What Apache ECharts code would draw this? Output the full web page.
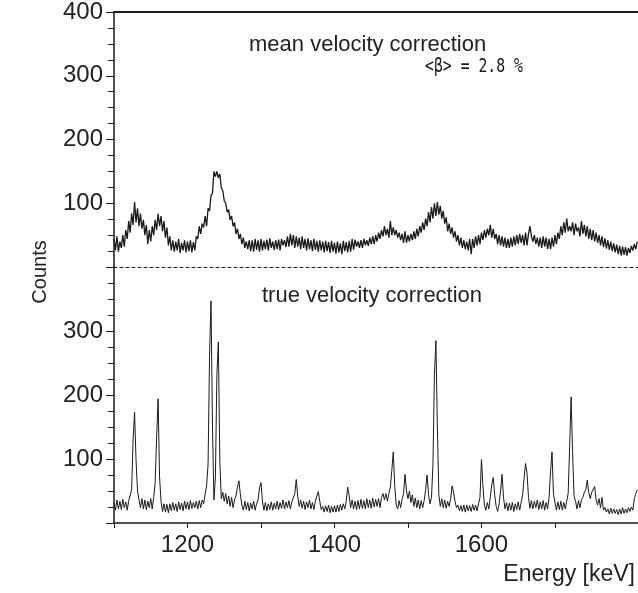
<!DOCTYPE html>
<html>
<head>
<meta charset="utf-8">
<script src="https://cdn.jsdelivr.net/npm/echarts@6/dist/echarts.min.js"></script>
<style>
  html, body { margin: 0; padding: 0; background: #fff; }
  #main { width: 638px; height: 593px; }
</style>
</head>
<body>
<div id="main"></div>
<script>
// energy bins: 1100 keV upwards, 2 keV per channel
var E_START = 1100;
var E_STEP = 2;

// counts (mean velocity correction), 20 keV per row
var meanCounts = [
  44,26,48,24,40,30,50,32,58,44,
  72,54,84,66,102,70,92,64,84,60,
  74,50,66,36,58,40,64,50,74,58,
  84,64,80,56,72,46,62,34,48,26,
  42,24,40,26,44,22,38,26,42,23,
  40,25,42,23,39,26,48,44,64,52,
  68,62,80,64,92,88,112,116,150,142,
  150,140,146,124,120,104,100,86,90,74,
  80,64,70,52,60,44,52,36,46,30,
  40,28,42,25,42,24,44,27,42,24,
  44,26,41,28,43,26,45,30,40,27,
  42,28,43,26,44,34,42,31,48,32,
  52,34,50,30,48,32,46,28,48,30,
  44,26,45,28,42,25,44,27,41,24,
  42,26,40,23,41,25,39,22,41,24,
  38,21,40,23,37,20,41,25,39,23,
  41,24,44,27,43,32,40,30,42,30,
  44,34,42,33,46,36,48,36,50,40,
  54,44,58,48,64,50,60,46,72,50,
  62,50,58,46,54,42,52,38,56,38,
  50,40,52,42,56,44,60,48,64,54,
  70,58,76,64,86,70,94,76,100,80,
  102,82,96,76,88,68,78,56,68,52,
  62,46,56,40,50,34,46,30,42,28,
  40,26,44,20,44,30,48,34,50,36,
  54,42,58,46,60,50,66,46,60,44,
  52,36,50,34,48,32,46,30,44,30,
  46,32,48,34,50,36,52,38,50,34,
  54,34,52,64,48,40,50,36,46,32,
  46,30,48,32,46,28,44,28,46,32,
  50,36,54,44,64,50,70,54,76,56,
  64,56,70,50,68,56,62,48,72,52,
  66,48,64,44,60,42,58,40,54,38,
  50,34,48,31,45,29,42,27,40,25,
  37,23,35,20,33,18,32,19,31,18,
  30,22,33,26,36,28,40
];

// counts (true velocity correction)
var trueCounts = [
  32,20,36,22,34,21,37,24,33,20,
  35,38,52,130,173,98,50,36,24,38,
  22,36,21,34,24,38,22,40,62,135,
  194,72,34,18,30,17,29,16,30,19,
  32,20,30,18,33,21,31,19,34,22,
  33,21,35,23,32,24,34,22,35,24,
  36,30,45,58,92,262,347,150,36,72,
  232,283,96,38,48,34,46,30,42,26,
  40,24,36,42,56,66,44,28,20,34,
  21,32,19,31,22,34,20,30,36,55,
  63,34,20,32,19,30,21,33,20,31,
  22,34,21,32,23,36,22,33,24,35,
  22,33,36,46,68,42,26,36,23,34,
  21,33,24,36,22,32,21,34,42,49,
  34,21,26,17,27,18,28,16,26,17,
  27,17,28,18,29,20,30,22,34,56,
  42,24,36,22,34,21,35,22,37,23,
  35,22,38,24,36,23,39,25,37,26,
  38,24,40,46,36,46,34,46,56,82,
  111,58,28,22,35,24,37,46,76,50,
  38,50,32,44,26,39,24,36,22,35,
  24,35,52,75,44,30,40,92,232,285,
  150,44,26,38,24,36,23,34,26,37,
  58,48,34,24,28,19,27,18,28,17,
  28,19,27,18,29,20,28,19,30,40,
  99,58,28,20,32,22,40,60,71,44,
  26,18,30,50,76,40,22,32,19,31,
  20,32,18,30,21,33,20,32,44,70,
  93,78,40,23,35,22,34,24,36,21,
  33,22,35,20,32,22,40,80,111,45,
  32,20,33,21,34,20,32,22,34,46,
  120,197,110,42,34,22,35,24,36,40,
  48,52,67,48,38,48,50,57,36,28,
  38,24,40,20,24,17,22,14,23,15,
  22,15,21,13,22,14,24,15,22,16,
  24,18,25,20,38,46,52
];

var xTicks = [1100, 1200, 1300, 1400, 1500, 1600, 1700];
var xLabels = [1200, 1400, 1600];

function toPairs(arr) {
  return arr.map(function (v, i) { return [E_START + i * E_STEP, v]; });
}

var ink = '#1a1a1a';
var font = '"Liberation Sans", Arial, sans-serif';

var myChart = echarts.init(document.getElementById('main'));
var yBase = {
  type: 'value', min: 0, max: 400, interval: 100,
  axisLine: { show: true, onZero: false, lineStyle: { color: ink, width: 1.5 } },
  axisTick: { show: true, length: 8, lineStyle: { color: ink } },
  minorTick: { show: true, splitNumber: 4, length: 6, lineStyle: { color: ink } },
  splitLine: { show: false },
  axisLabel: { fontSize: 24, fontFamily: font, color: '#222', margin: 11 }
};

option = {
  animation: false,
  backgroundColor: '#fff',
  grid: [
    { left: 114, right: 0, top: 11, height: 256 },
    { left: 114, right: 0, top: 267, height: 256 }
  ],
  xAxis: [
    { gridIndex: 0, type: 'value', min: 1100, max: 1813, position: 'bottom',
      axisLine: { onZero: false, lineStyle: { color: ink, width: 1, type: [3, 3] } },
      axisTick: { show: false }, axisLabel: { show: false }, splitLine: { show: false } },
    { gridIndex: 0, type: 'value', min: 1100, max: 1813, position: 'top',
      axisLine: { onZero: false, lineStyle: { color: ink, width: 2 } },
      axisTick: { show: false }, axisLabel: { show: false }, splitLine: { show: false } },
    { gridIndex: 1, type: 'value', min: 1100, max: 1813, interval: 100, position: 'bottom',
      axisLine: { onZero: false, lineStyle: { color: ink, width: 1.5 } },
      axisTick: { length: 5, customValues: xTicks, lineStyle: { color: ink } },
      axisLabel: { customValues: xLabels, fontSize: 24, fontFamily: font, color: '#222', margin: 10,
        formatter: function (v) { return String(v); } },
      splitLine: { show: false } }
  ],
  yAxis: [
    echarts.util.merge({ gridIndex: 0, axisLabel: { formatter: function (v) { return v === 0 ? '' : String(v); } } }, yBase),
    echarts.util.merge({ gridIndex: 1, axisLabel: { formatter: function (v) { return (v === 0 || v === 400) ? '' : String(v); } } }, yBase)
  ],
  series: [
    { type: 'line', xAxisIndex: 0, yAxisIndex: 0, data: toPairs(meanCounts),
      showSymbol: false, lineStyle: { color: ink, width: 1.3 } },
    { type: 'line', xAxisIndex: 2, yAxisIndex: 1, data: toPairs(trueCounts),
      showSymbol: false, lineStyle: { color: ink, width: 1 } }
  ],
  graphic: [
    { type: 'text', left: 249, top: 34,
      style: { text: 'mean velocity correction', font: '22px ' + font, fill: '#222' } },
    { type: 'text', x: 425, y: 57, scaleX: 0.74,
      style: { text: '<β> = 2.8 %', font: '20px "DejaVu Sans Mono", monospace', fill: '#1a1a1a',
        verticalAlign: 'top' } },
    { type: 'text', left: 262, top: 285,
      style: { text: 'true velocity correction', font: '22px ' + font, fill: '#222' } },
    { type: 'text', x: 40, y: 272, rotation: Math.PI / 2,
      style: { text: 'Counts', font: '20px ' + font, fill: '#222', align: 'center', verticalAlign: 'middle' } },
    { type: 'text', right: 3, top: 563,
      style: { text: 'Energy [keV]', font: '23px ' + font, fill: '#222' } }
  ]
};
if (option && typeof option === "object") {
  myChart.setOption(option, true);
}
</script>
</body>
</html>
